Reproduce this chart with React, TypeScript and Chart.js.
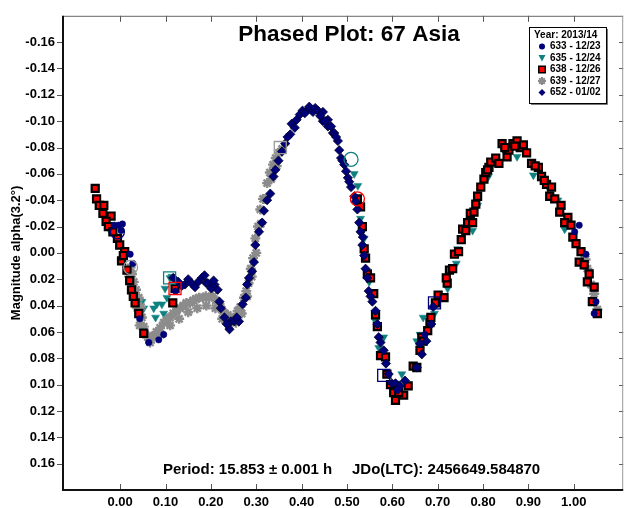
import React, { useEffect, useRef } from 'react';
import { Chart, registerables } from 'chart.js';

Chart.register(...registerables);

const CHART_TITLE = 'Phased Plot: 67 Asia';
const FOOTER_PERIOD = 'Period: 15.853 \u00b1 0.001 h';
const FOOTER_EPOCH = 'JDo(LTC): 2456649.584870';
const Y_TITLE = 'Magnitude alpha(3.2\u00b0)';
const LEGEND_TITLE = 'Year: 2013/14';
const SESSION_LABELS = ['633 - 12/23', '635 - 12/24', '638 - 12/26', '639 - 12/27', '652 - 01/02'];

const X_TICKS = [0, 0.1, 0.2, 0.3, 0.4, 0.5, 0.6, 0.7, 0.8, 0.9, 1.0];
const Y_TICKS = [-0.16, -0.14, -0.12, -0.1, -0.08, -0.06, -0.04, -0.02, 0, 0.02, 0.04, 0.06, 0.08, 0.1, 0.12, 0.14, 0.16];

// [phase, magnitude]
const sess633: number[][] = [
  [-0.013, -0.021], [-0.004, -0.021], [0.002, -0.017], [0.005, -0.022], [0.022, 0.001], [0.028, 0.008],
  [0.043, 0.05], [0.063, 0.068], [0.085, 0.066], [0.096, 0.062], [0.122, 0.029], [0.672, 0.062],
  [1.002, -0.016], [1.012, -0.021], [1.027, 0.001], [1.045, 0.046], [1.049, 0.037],
];

const sess635: number[][] = [
  [-0.024, -0.018], [0.048, 0.037], [0.052, 0.042], [0.074, 0.042], [0.078, 0.049], [0.081, 0.039],
  [0.092, 0.039], [0.096, 0.046], [0.099, 0.027], [0.103, 0.034], [0.11, 0.019], [0.114, 0.018],
  [0.516, -0.06], [0.524, -0.051], [0.53, -0.026], [0.538, -0.011], [0.549, 0.022], [0.563, 0.052],
  [0.57, 0.072], [0.581, 0.064], [0.61, 0.099], [0.621, 0.092], [0.654, 0.067], [0.661, 0.062],
  [0.668, 0.049], [0.693, 0.046], [0.722, 0.027], [0.741, 0.008], [0.744, -0.003], [0.777, -0.017],
  [0.788, -0.036], [0.812, -0.058], [0.846, -0.078], [0.875, -0.073], [0.911, -0.059], [0.943, -0.05],
  [0.965, -0.04], [0.98, -0.018], [1.02, 0.002],
];

const sess638: number[][] = [
  [-0.055, -0.049], [-0.052, -0.041], [-0.046, -0.036], [-0.036, -0.036], [-0.038, -0.03], [-0.02, -0.028],
  [-0.031, -0.024], [-0.026, -0.02], [-0.006, -0.011], [-0.001, -0.006], [0.01, -0.001], [0.003, 0.006],
  [0.015, 0.013], [0.021, 0.021], [0.025, 0.028], [0.033, 0.038], [0.041, 0.046], [0.052, 0.061],
  [0.116, 0.038], [0.121, 0.027], [-0.016, -0.016], [0.007, 0.002], [0.029, 0.033],
  [0.523, -0.041], [0.53, -0.035], [0.534, -0.02], [0.538, -0.003], [0.541, 0.004], [0.545, 0.016],
  [0.552, 0.019], [0.559, 0.031], [0.563, 0.047], [0.567, 0.056], [0.574, 0.078], [0.585, 0.079],
  [0.588, 0.092], [0.603, 0.106], [0.607, 0.112], [0.625, 0.108], [0.635, 0.101], [0.646, 0.086],
  [0.654, 0.087], [0.661, 0.074], [0.665, 0.064], [0.668, 0.067], [0.678, 0.059], [0.683, 0.053],
  [0.685, 0.049], [0.695, 0.038], [0.701, 0.032], [0.714, 0.034], [0.721, 0.023], [0.719, 0.019],
  [0.726, 0.013], [0.733, 0.012], [0.737, 0.001], [0.746, -0.001], [0.752, -0.01], [0.755, -0.018],
  [0.762, -0.017], [0.766, -0.023], [0.777, -0.023], [0.772, -0.03], [0.78, -0.031], [0.784, -0.037],
  [0.788, -0.043], [0.795, -0.05], [0.802, -0.056], [0.806, -0.061], [0.813, -0.065], [0.817, -0.069],
  [0.828, -0.072], [0.835, -0.068], [0.842, -0.083], [0.853, -0.073], [0.857, -0.078], [0.866, -0.083],
  [0.875, -0.085], [0.882, -0.08], [0.889, -0.082], [0.896, -0.076], [0.907, -0.068], [0.922, -0.065],
  [0.929, -0.058], [0.94, -0.052], [0.951, -0.05], [0.947, -0.043], [0.958, -0.041], [0.972, -0.036],
  [0.969, -0.031], [0.987, -0.027], [0.98, -0.023], [0.994, -0.021], [0.998, -0.012], [1.005, -0.007],
  [1.016, -0.001], [1.012, 0.007], [1.023, 0.009], [1.034, 0.016], [1.03, 0.022], [1.045, 0.026],
  [1.041, 0.037], [1.052, 0.046], [0.596, 0.1], [0.614, 0.106], [0.81, -0.063], [0.848, -0.08],
  [0.87, -0.081], [0.915, -0.066], [0.935, -0.055],
];

const sess639: number[][] = [
  [0.023, 0.011], [0.026, 0.016], [0.03, 0.022], [0.035, 0.028], [0.041, 0.034], [0.046, 0.041],
  [0.048, 0.049], [0.052, 0.056], [0.056, 0.062], [0.061, 0.064], [0.067, 0.064], [0.074, 0.063],
  [0.08, 0.06], [0.088, 0.057], [0.096, 0.053], [0.102, 0.051], [0.11, 0.049], [0.117, 0.046],
  [0.124, 0.044], [0.132, 0.042], [0.139, 0.04], [0.146, 0.038], [0.154, 0.038], [0.161, 0.036],
  [0.167, 0.035], [0.174, 0.034], [0.183, 0.034], [0.189, 0.033], [0.196, 0.034], [0.204, 0.033],
  [0.211, 0.036], [0.219, 0.039], [0.224, 0.043], [0.23, 0.046], [0.237, 0.047], [0.243, 0.049],
  [0.25, 0.049], [0.259, 0.044], [0.265, 0.041], [0.273, 0.034], [0.278, 0.029], [0.283, 0.023],
  [0.288, 0.012], [0.293, 0.004], [0.298, -0.011], [0.304, -0.02], [0.309, -0.033], [0.315, -0.041],
  [0.324, -0.053], [0.33, -0.061], [0.337, -0.067], [0.343, -0.072], [0.35, -0.076], [0.357, -0.079],
  [0.066, 0.068], [0.09, 0.062], [0.11, 0.055], [0.13, 0.05], [0.15, 0.045], [0.17, 0.042],
  [0.19, 0.04], [0.21, 0.042], [0.225, 0.05], [0.24, 0.055], [0.255, 0.053], [0.268, 0.046],
  [0.28, 0.033], [0.29, 0.018], [0.3, 0.0], [0.31, -0.022], [0.32, -0.041], [0.333, -0.056],
  [0.345, -0.066], [0.02, 0.018], [0.03, 0.03], [0.038, 0.042], [0.043, 0.055],
  [1.026, 0.005], [1.03, 0.012], [1.038, 0.024], [1.045, 0.031], [1.052, 0.043],
];

const sess652: number[][] = [
  [0.117, 0.019], [0.128, 0.022], [0.143, 0.024], [0.15, 0.02], [0.157, 0.023], [0.165, 0.026],
  [0.172, 0.022], [0.18, 0.019], [0.186, 0.017], [0.19, 0.023], [0.193, 0.023], [0.201, 0.027],
  [0.208, 0.024], [0.215, 0.028], [0.219, 0.037], [0.222, 0.042], [0.23, 0.049], [0.241, 0.058],
  [0.244, 0.052], [0.252, 0.052], [0.262, 0.052], [0.27, 0.039], [0.277, 0.034], [0.28, 0.024],
  [0.284, 0.019], [0.291, 0.014], [0.295, 0.007], [0.298, -0.006], [0.306, -0.016], [0.313, -0.023],
  [0.317, -0.032], [0.324, -0.04], [0.331, -0.045], [0.338, -0.058], [0.342, -0.063], [0.349, -0.07],
  [0.357, -0.077], [0.364, -0.083], [0.375, -0.09], [0.378, -0.098], [0.389, -0.101], [0.396, -0.105],
  [0.402, -0.108], [0.411, -0.108], [0.417, -0.111], [0.425, -0.107], [0.43, -0.11], [0.436, -0.108],
  [0.447, -0.107], [0.447, -0.1], [0.458, -0.101], [0.458, -0.096], [0.465, -0.096], [0.469, -0.091],
  [0.472, -0.091], [0.48, -0.085], [0.483, -0.078], [0.487, -0.072], [0.494, -0.067], [0.502, -0.057],
  [0.509, -0.05], [0.516, -0.043], [0.523, -0.033], [0.527, -0.023], [0.53, -0.016], [0.534, -0.006],
  [0.538, 0.002], [0.541, 0.012], [0.545, 0.019], [0.548, 0.029], [0.556, 0.037], [0.563, 0.044],
  [0.567, 0.054], [0.57, 0.064], [0.581, 0.074], [0.592, 0.092], [0.599, 0.099], [0.607, 0.099],
  [0.617, 0.101], [0.628, 0.097], [0.654, 0.087], [0.661, 0.069], [0.665, 0.077], [0.675, 0.067],
  [0.686, 0.054], [0.69, 0.041], [0.369, -0.088], [0.385, -0.095], [0.407, -0.106], [0.441, -0.104],
  [0.452, -0.1], [0.476, -0.088], [0.49, -0.07], [0.498, -0.062], [0.505, -0.054], [0.519, -0.039],
  [0.535, -0.012], [0.552, 0.033], [0.574, 0.068], [0.586, 0.084], [0.612, 0.104], [0.136, 0.025],
  [0.206, 0.021], [0.235, 0.054], [0.257, 0.049],
];

// first-point highlight markers: [phase, magnitude]
const firstCircles: number[][] = [[-0.006, -0.016], [0.023, 0.011], [0.509, -0.071], [0.523, -0.041]];
const firstSquares: number[][] = [[0.109, 0.019], [0.121, 0.027], [0.353, -0.08], [0.581, 0.093], [0.693, 0.038]];

const NAVY = '#00007a';
const TEAL = '#0f8080';
const RED = '#ff0000';
const GREY = '#8c8c8c';
const FONT = '"Liberation Sans", Arial, sans-serif';

const toXY = (arr: number[][]) => arr.map(([x, y]) => ({ x, y }));

function drawLegendMarker(ctx: CanvasRenderingContext2D, kind: number, x: number, y: number) {
  ctx.save();
  ctx.lineWidth = 1;
  if (kind === 0) {
    ctx.fillStyle = NAVY;
    ctx.beginPath();
    ctx.arc(x, y, 3, 0, Math.PI * 2);
    ctx.fill();
  } else if (kind === 1) {
    ctx.fillStyle = TEAL;
    ctx.beginPath();
    ctx.moveTo(x - 3.5, y - 3);
    ctx.lineTo(x + 3.5, y - 3);
    ctx.lineTo(x, y + 3.5);
    ctx.closePath();
    ctx.fill();
  } else if (kind === 2) {
    ctx.fillStyle = '#000';
    ctx.fillRect(x - 4, y - 4, 8, 8);
    ctx.fillStyle = RED;
    ctx.fillRect(x - 2.5, y - 2.5, 5, 5);
  } else if (kind === 3) {
    ctx.strokeStyle = GREY;
    ctx.lineWidth = 2;
    ctx.beginPath();
    for (let i = 0; i < 4; i++) {
      const a = (i * Math.PI) / 4;
      ctx.moveTo(x - Math.cos(a) * 4, y - Math.sin(a) * 4);
      ctx.lineTo(x + Math.cos(a) * 4, y + Math.sin(a) * 4);
    }
    ctx.stroke();
  } else {
    ctx.fillStyle = NAVY;
    ctx.beginPath();
    ctx.moveTo(x, y - 3.5);
    ctx.lineTo(x + 3.5, y);
    ctx.lineTo(x, y + 3.5);
    ctx.lineTo(x - 3.5, y);
    ctx.closePath();
    ctx.fill();
  }
  ctx.restore();
}

const decorPlugin = {
  id: 'decor',
  beforeDatasetsDraw(chart: any) {
    const { ctx, chartArea } = chart;
    const { left, right, top, bottom } = chartArea;
    const xs = chart.scales.x;
    const ys = chart.scales.y;
    ctx.save();
    ctx.strokeStyle = '#555';
    ctx.lineWidth = 1;
    ctx.beginPath();
    X_TICKS.forEach((v) => {
      const px = Math.round(xs.getPixelForValue(v)) + 0.5;
      ctx.moveTo(px, bottom);
      ctx.lineTo(px, bottom - 6);
      ctx.moveTo(px, top);
      ctx.lineTo(px, top + 6);
    });
    Y_TICKS.forEach((v) => {
      const py = Math.round(ys.getPixelForValue(v)) + 0.5;
      ctx.moveTo(left - 6, py);
      ctx.lineTo(left, py);
      ctx.moveTo(right - 4, py);
      ctx.lineTo(right, py);
    });
    ctx.stroke();
    ctx.strokeStyle = '#666';
    ctx.beginPath();
    ctx.moveTo(left, top + 0.5);
    ctx.lineTo(right, top + 0.5);
    ctx.stroke();
    ctx.strokeStyle = '#999';
    ctx.beginPath();
    ctx.moveTo(right - 0.5, top);
    ctx.lineTo(right - 0.5, bottom);
    ctx.stroke();
    ctx.strokeStyle = '#111';
    ctx.lineWidth = 2;
    ctx.beginPath();
    ctx.moveTo(left, top);
    ctx.lineTo(left, bottom);
    ctx.lineTo(right, bottom);
    ctx.stroke();
    ctx.restore();
  },
  afterDraw(chart: any) {
    const { ctx } = chart;
    ctx.save();
    ctx.fillStyle = '#000';
    ctx.textBaseline = 'alphabetic';
    ctx.textAlign = 'center';
    ctx.font = `bold 22.5px ${FONT}`;
    ctx.fillText(CHART_TITLE, 349, 41);
    ctx.font = `bold 15px ${FONT}`;
    ctx.textAlign = 'left';
    ctx.fillText(FOOTER_PERIOD, 163, 474);
    ctx.fillText(FOOTER_EPOCH, 352, 474);

    const bx = 529, by = 27, bw = 77, bh = 76;
    ctx.fillStyle = '#fff';
    ctx.fillRect(bx, by, bw, bh);
    ctx.strokeStyle = '#000';
    ctx.lineWidth = 1;
    ctx.strokeRect(bx + 0.5, by + 0.5, bw, bh);
    ctx.strokeStyle = '#777';
    ctx.beginPath();
    ctx.moveTo(bx + bw + 1.5, by + 2);
    ctx.lineTo(bx + bw + 1.5, by + bh + 1.5);
    ctx.lineTo(bx + 2, by + bh + 1.5);
    ctx.stroke();
    ctx.fillStyle = '#000';
    ctx.font = `bold 10px ${FONT}`;
    ctx.textBaseline = 'middle';
    ctx.textAlign = 'left';
    ctx.fillText(LEGEND_TITLE, bx + 5, by + 8);
    SESSION_LABELS.forEach((lab, i) => {
      const ry = by + 19.5 + i * 11.5;
      drawLegendMarker(ctx, i, bx + 13, ry);
      ctx.fillStyle = '#000';
      ctx.fillText(lab, bx + 21, ry);
    });
    ctx.restore();
  },
};

export default function App() {
  const ref = useRef<HTMLCanvasElement | null>(null);
  useEffect(() => {
    if (!ref.current) return;
    const chart = new Chart(ref.current, {
      type: 'scatter',
      data: {
        datasets: [
          {
            label: 'first circles',
            data: toXY(firstCircles),
            pointStyle: 'circle',
            pointRadius: 7,
            backgroundColor: 'rgba(0,0,0,0)',
            borderColor: [NAVY, '#9a9a9a', TEAL, RED],
            borderWidth: 1.3,
            order: 0,
          },
          {
            label: 'first squares',
            data: toXY(firstSquares),
            pointStyle: 'rect',
            pointRadius: 8.5,
            backgroundColor: 'rgba(0,0,0,0)',
            borderColor: [TEAL, RED, '#9a9a9a', NAVY, NAVY],
            borderWidth: 1.3,
            order: 0,
          },
          {
            label: SESSION_LABELS[0],
            data: toXY(sess633),
            pointStyle: 'circle',
            pointRadius: 3.2,
            backgroundColor: NAVY,
            borderColor: NAVY,
            borderWidth: 0.5,
            order: 1,
          },
          {
            label: SESSION_LABELS[4],
            data: toXY(sess652),
            pointStyle: 'rectRot',
            pointRadius: 4.6,
            backgroundColor: NAVY,
            borderColor: '#00002a',
            borderWidth: 0.8,
            order: 2,
          },
          {
            label: SESSION_LABELS[2],
            data: toXY(sess638),
            pointStyle: 'rect',
            pointRadius: 5,
            backgroundColor: RED,
            borderColor: '#000',
            borderWidth: 2.2,
            order: 3,
          },
          {
            label: SESSION_LABELS[3],
            data: toXY(sess639),
            pointStyle: 'star',
            pointRadius: 5,
            backgroundColor: GREY,
            borderColor: GREY,
            borderWidth: 2.4,
            order: 4,
          },
          {
            label: SESSION_LABELS[1],
            data: toXY(sess635),
            pointStyle: 'triangle',
            rotation: 180,
            pointRadius: 4.6,
            backgroundColor: TEAL,
            borderColor: TEAL,
            borderWidth: 0.5,
            order: 5,
          },
        ] as any,
      },
      options: {
        animation: false,
        responsive: false,
        devicePixelRatio: 1,
        events: [],
        layout: { padding: { left: 0, right: 2, top: 10, bottom: 0 } },
        plugins: { legend: { display: false }, tooltip: { enabled: false }, title: { display: false } },
        scales: {
          x: {
            type: 'linear',
            min: -0.126,
            max: 1.109,
            grid: { display: false, drawTicks: false },
            border: { display: false },
            afterBuildTicks: (s: any) => { s.ticks = X_TICKS.map((v) => ({ value: v })); },
            afterFit: (s: any) => { s.height = 18; },
            ticks: {
              autoSkip: false,
              maxRotation: 0,
              padding: 5,
              color: '#000',
              font: { family: FONT, size: 13, weight: 'bold' },
              callback: (v: any) => Number(v).toFixed(2),
            },
          },
          y: {
            type: 'linear',
            reverse: true,
            min: -0.18,
            max: 0.18,
            grid: { display: false, drawTicks: false },
            border: { display: false },
            afterBuildTicks: (s: any) => { s.ticks = Y_TICKS.map((v) => ({ value: v })); },
            afterFit: (s: any) => { s.width = 63; },
            title: {
              display: true,
              text: Y_TITLE,
              color: '#000',
              font: { family: FONT, size: 13, weight: 'bold' },
              padding: { top: 9, bottom: 0 },
            },
            ticks: {
              autoSkip: false,
              padding: 8,
              color: '#000',
              font: { family: FONT, size: 13, weight: 'bold' },
              callback: (v: any) => Number(v).toFixed(2),
            },
          },
        },
      } as any,
      plugins: [decorPlugin],
    });
    return () => chart.destroy();
  }, []);
  return (
    <div style={{ position: 'absolute', left: 0, top: 0, width: 633, height: 508, background: '#fff' }}>
      <canvas ref={ref} width={633} height={508} style={{ width: 633, height: 508, display: 'block' }} />
    </div>
  );
}
